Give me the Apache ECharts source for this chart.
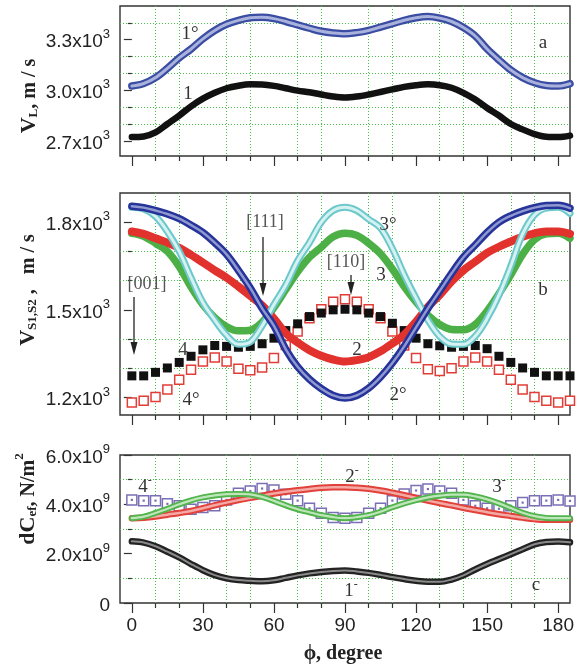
<!DOCTYPE html>
<html><head><meta charset="utf-8">
<script src="https://cdn.jsdelivr.net/npm/echarts@6/dist/echarts.min.js"></script>
<style>html,body{margin:0;padding:0;background:#fff}#c{width:583px;height:670px}</style>
</head><body><div id="c"></div>
<script>
// angle phi, degree
const phi = [0,5,10,15,20,25,30,35,40,45,50,55,60,65,70,75,80,85,90,95,100,105,110,115,120,125,130,135,140,145,150,155,160,165,170,175,180,185];

// panel a: V_L, m/s
const vL1o = [3025,3040,3075,3130,3192,3245,3305,3355,3392,3415,3430,3433,3425,3408,3388,3368,3350,3340,3335,3342,3355,3375,3395,3415,3430,3437,3428,3408,3372,3322,3245,3180,3120,3075,3045,3028,3025,3039];
const vL1  = [2722,2726,2750,2800,2850,2905,2950,2985,3012,3027,3035,3034,3026,3012,2998,2988,2975,2963,2957,2963,2975,2990,3005,3020,3030,3035,3030,3015,2985,2945,2895,2850,2800,2768,2740,2724,2722,2731];

// panel b: V_S1,S2, m/s
const vS2o = [1855,1850,1840,1828,1812,1790,1765,1730,1690,1635,1575,1505,1445,1365,1305,1262,1230,1207,1198,1207,1232,1270,1318,1375,1440,1505,1565,1625,1680,1722,1765,1800,1822,1838,1850,1857,1858,1848];
const vS3o = [1851,1845,1820,1768,1700,1610,1525,1465,1413,1382,1390,1445,1518,1585,1668,1730,1800,1840,1851,1840,1810,1780,1710,1620,1540,1465,1409,1383,1382,1410,1470,1550,1650,1760,1825,1848,1851,1830];
const vS2  = [1768,1760,1745,1730,1712,1688,1662,1635,1610,1580,1548,1515,1470,1420,1388,1362,1343,1330,1323,1328,1338,1358,1385,1415,1460,1510,1551,1597,1635,1665,1695,1716,1734,1750,1762,1768,1768,1760];
const vS3  = [1762,1752,1728,1700,1648,1578,1518,1473,1442,1428,1430,1458,1508,1570,1630,1680,1715,1750,1762,1755,1728,1692,1640,1580,1527,1482,1450,1433,1432,1450,1496,1555,1620,1690,1740,1760,1762,1745];
const vS4  = [1274,1274,1286,1301,1320,1341,1363,1378,1375,1372,1375,1384,1403,1429,1452,1477,1489,1500,1502,1500,1489,1477,1454,1429,1403,1384,1377,1372,1375,1378,1367,1341,1320,1301,1286,1274,1274,1274];
const vS4o = [1183,1189,1202,1227,1261,1295,1323,1337,1323,1298,1293,1303,1335,1380,1426,1471,1502,1528,1536,1528,1502,1471,1426,1378,1335,1297,1291,1300,1323,1337,1323,1295,1261,1227,1202,1189,1183,1189];

// panel c: dC_ef, in units of 1e9 N/m^2
const dC1 = [2.50,2.45,2.30,2.08,1.85,1.58,1.33,1.13,1.00,0.93,0.90,0.88,0.92,1.02,1.12,1.20,1.26,1.30,1.32,1.28,1.22,1.14,1.05,0.97,0.90,0.86,0.86,0.95,1.12,1.36,1.58,1.78,1.98,2.18,2.38,2.47,2.49,2.46];
const dC2 = [3.44,3.46,3.51,3.58,3.65,3.73,3.84,3.96,4.07,4.17,4.26,4.35,4.44,4.51,4.57,4.62,4.67,4.69,4.69,4.67,4.63,4.56,4.47,4.37,4.26,4.15,4.05,3.96,3.86,3.77,3.68,3.60,3.53,3.46,3.40,3.37,3.37,3.37];
const dC3 = [3.44,3.50,3.65,3.82,4.00,4.16,4.28,4.36,4.41,4.42,4.40,4.30,4.14,3.96,3.80,3.68,3.56,3.48,3.44,3.48,3.56,3.70,3.88,4.04,4.17,4.28,4.35,4.39,4.39,4.32,4.20,4.04,3.85,3.66,3.52,3.45,3.44,3.44];
const dC4 = [4.18,4.15,4.15,4.02,3.94,3.80,3.87,3.94,4.18,4.45,4.54,4.64,4.58,4.41,4.15,3.84,3.64,3.47,3.44,3.47,3.64,3.84,4.15,4.42,4.56,4.62,4.54,4.45,4.18,3.94,3.84,3.82,3.94,4.07,4.15,4.15,4.18,4.14];

// ticks
const xMajor = [0,30,60,90,120,150,180];
const xMinor = [10,20,40,50,70,80,100,110,130,140,160,170];
const yMajorA = [2700,3000,3300], yMinorA = [2800,2900,3100,3200,3400];
const yMajorB = [1200,1500,1800], yMinorB = [1300,1400,1600,1700];
const yMajorC = [0,2,4,6], yMinorC = [1,3,5];

const SANS = 'Liberation Sans, Arial, sans-serif';
const SERIF = 'Liberation Serif, Times New Roman, serif';
const AX = '#333';
const GRIDC = '#46c046';

const chart = echarts.init(document.getElementById('c'), null, {renderer:'canvas'});

const gridBase = {left:120, right:13, show:true, borderColor:AX, borderWidth:1.4, backgroundColor:'transparent'};
const grids = [
  Object.assign({top:6, height:150}, gridBase),
  Object.assign({top:193, height:222}, gridBase),
  Object.assign({top:455, height:148}, gridBase)
];

const labelRich = {
  b:{fontSize:19, fontFamily:SANS, color:'#222', lineHeight:24, verticalAlign:'bottom'},
  s:{fontSize:13, fontFamily:SANS, color:'#222', lineHeight:13, verticalAlign:'top'}
};

function xAxes(gi, showLabels){
  return [{
    type:'value', gridIndex:gi, min:-5, max:185, position:'bottom',
    axisLine:{show:false},
    axisTick:{show:true, customValues:xMinor, length:5, lineStyle:{color:AX, width:1.2}},
    axisLabel:{show:showLabels, customValues:xMajor, fontSize:19, fontFamily:SANS, color:'#222', margin:13},
    splitLine:{show:true, lineStyle:{color:GRIDC, type:[1,2], width:1}}
  },{
    type:'value', gridIndex:gi, min:-5, max:185, position:'bottom',
    axisLine:{show:false},
    axisTick:{show:true, customValues:xMajor, length:10, lineStyle:{color:AX, width:1.2}},
    axisLabel:{show:false}, splitLine:{show:false}
  }];
}
function yAxes(gi, min, max, major, minor, fmt){
  return [{
    type:'value', gridIndex:gi, min, max, position:'left',
    axisLine:{show:false},
    axisTick:{show:true, customValues:minor, length:4, lineStyle:{color:AX, width:1.2}},
    axisLabel:{show:true, customValues:major, formatter:fmt, rich:labelRich, margin:10},
    splitLine:{show:true, lineStyle:{color:GRIDC, type:[1,2], width:1}}
  },{
    type:'value', gridIndex:gi, min, max, position:'left',
    axisLine:{show:false},
    axisTick:{show:true, customValues:major, length:8, lineStyle:{color:AX, width:1.2}},
    axisLabel:{show:false}, splitLine:{show:false}
  }];
}
const fmt3 = v => '{b|' + (v/1000).toFixed(1) + 'x10}{s|3}';
const fmt9 = v => v === 0 ? '{b|0}' : '{b|' + v.toFixed(1) + 'x10}{s|9}';

function pts(vals){ return phi.map((p,i)=>[p, vals[i]]); }
function line(gi, vals, color, width){
  return {type:'line', xAxisIndex:gi*2, yAxisIndex:gi*2, data:pts(vals), smooth:0.35,
    symbol:'none', showSymbol:false, lineStyle:{color, width, cap:'round', join:'round'}, silent:true};
}
function scat(gi, vals, size, itemStyle, symbol){
  return {type:'scatter', xAxisIndex:gi*2, yAxisIndex:gi*2, data:pts(vals), symbol:symbol||'rect',
    symbolSize:size, itemStyle:Object.assign({opacity:1}, itemStyle), silent:true};
}

const series = [
  // panel a
  line(0, vL1o, '#3a4da2', 7.5),
  line(0, vL1o, '#a9b2dc', 3),
  line(0, vL1, '#111', 6.5),
  // panel b
  line(1, vS3, '#4cb047', 7.5),
  line(1, vS2, '#e2322e', 8),
  line(1, vS3o, '#6cc8ca', 7),
  line(1, vS3o, '#d6f1f1', 3),
  line(1, vS2o, '#25339a', 7.5),
  line(1, vS2o, '#8f99d0', 2.5),
  scat(1, vS4o, 9, {color:'#fff', borderColor:'#e23c36', borderWidth:1.5}),
  scat(1, vS4, 9, {color:'#111'}),
  // panel c
  line(2, dC1, '#222', 6.5),
  line(2, dC1, '#8a8a8a', 2),
  line(2, dC2, '#e2403a', 6.5),
  line(2, dC2, '#f3aaa4', 2.5),
  line(2, dC3, '#52b44c', 6),
  line(2, dC3, '#bfe6ba', 2.2),
  scat(2, dC4, 10, {color:'#fff', borderColor:'#7a6fb5', borderWidth:1.5}),
  scat(2, dC4, 2.2, {color:'#7a6fb5'})
];

function txt(x, y, text, size, color, extra){
  return Object.assign({type:'text', x, y, z:100, silent:true,
    style:{text, fontSize:size||19, fontFamily:SERIF, fill:color||'#333', align:'center', verticalAlign:'middle'}}, extra||{});
}
function richTxt(x, y, text, rich, rot){
  return {type:'text', x, y, z:100, silent:true, rotation:rot||0,
    style:{text, rich, align:'center', verticalAlign:'middle', fill:'#222'}};
}
function arrow(x, y1, y2){
  return [
    {type:'line', z:100, silent:true, shape:{x1:x, y1, x2:x, y2:y2-10}, style:{stroke:'#222', lineWidth:1.3}},
    {type:'polygon', z:100, silent:true, shape:{points:[[x-3.5,y2-13],[x+3.5,y2-13],[x,y2]]}, style:{fill:'#222'}}
  ];
}
const nameRich = {
  v:{fontSize:22, fontWeight:'bold', fontFamily:SERIF, fill:'#222', lineHeight:26, verticalAlign:'bottom'},
  t:{fontSize:20, fontWeight:'bold', fontFamily:SERIF, fill:'#222', lineHeight:26, verticalAlign:'bottom'},
  sub:{fontSize:13, fontWeight:'bold', fontFamily:SERIF, fill:'#222', lineHeight:13, verticalAlign:'bottom'},
  sup:{fontSize:13, fontWeight:'bold', fontFamily:SERIF, fill:'#222', lineHeight:13, verticalAlign:'top'}
};
const curveRich = {
  n:{fontSize:19, fontFamily:SERIF, fill:'#333', lineHeight:22, verticalAlign:'bottom'},
  s:{fontSize:12, fontFamily:SERIF, fill:'#333', lineHeight:12, verticalAlign:'top'}
};

const graphic = [
  richTxt(27, 96, '{v|V}{sub|L}{t|, m / s}', nameRich, Math.PI/2),
  richTxt(26, 290, '{v|V}{sub|S1,S2}{t| ,   m / s}', nameRich, Math.PI/2),
  richTxt(26, 499, '{v|dC}{sub|ef}{t|, N/m}{sup|2}', nameRich, Math.PI/2),
  txt(343, 654, 'ϕ, degree', 20, '#222', {style:{text:'ϕ, degree', fontSize:20, fontWeight:'bold', fontFamily:SERIF, fill:'#222', align:'center', verticalAlign:'middle'}}),
  txt(190, 34, '1°'), txt(188, 94, '1'),
  txt(543, 43, 'a'), txt(543, 290, 'b'), txt(536, 585, 'c'),
  txt(265, 222, '[111]', 18, '#555'), txt(147, 284, '[001]', 18, '#555'), txt(346, 262, '[110]', 18, '#555'),
  txt(388, 225, '3°'), txt(381, 275, '3'), txt(357, 350, '2'), txt(398, 395, '2°'),
  txt(183, 350, '4', 19, '#444'), txt(191, 400, '4°'),
  richTxt(145, 486, '{n|4}{s|-}', curveRich), richTxt(352, 476, '{n|2}{s|-}', curveRich),
  richTxt(499, 486, '{n|3}{s|-}', curveRich), richTxt(351, 590, '{n|1}{s|-}', curveRich),
  ...arrow(134, 297, 355), ...arrow(263, 237, 296), ...arrow(351, 275, 295)
];

chart.setOption({
  animation:false,
  backgroundColor:'#fff',
  grid:grids,
  xAxis:[...xAxes(0,false), ...xAxes(1,false), ...xAxes(2,true)],
  yAxis:[...yAxes(0, 2610, 3500, yMajorA, yMinorA, fmt3),
         ...yAxes(1, 1140, 1900, yMajorB, yMinorB, fmt3),
         ...yAxes(2, 0, 6, yMajorC, yMinorC, fmt9)],
  series,
  graphic
});
</script></body></html>
